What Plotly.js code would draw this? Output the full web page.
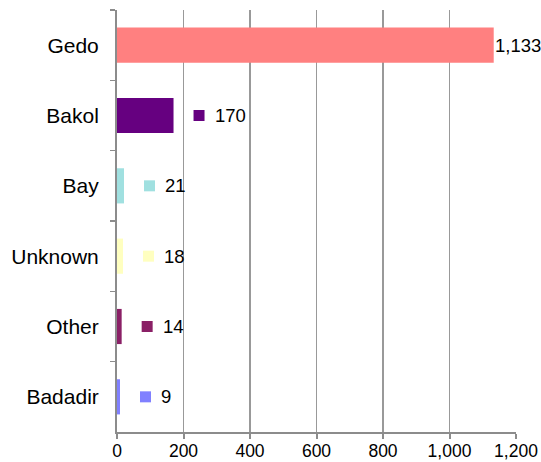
<!DOCTYPE html>
<html>
<head>
<meta charset="utf-8">
<script src="https://cdn.plot.ly/plotly-3.0.1.min.js"></script>
<style>html,body{margin:0;padding:0;background:#fff;}#chart{width:541px;height:462px;}</style>
</head>
<body>
<div id="chart"></div>
<script>
const categories = ["Gedo", "Bakol", "Bay", "Unknown", "Other", "Badadir"];
const values = [1133, 170, 21, 18, 14, 9];
const colors = ["#FF8080", "#660080", "#A0E0E0", "#FFFFC0", "#8A2066", "#8080FF"];
const showKey = [false, true, true, true, true, true];
const xTicks = [0, 200, 400, 600, 800, 1000, 1200];

const trace = {
  type: "bar",
  orientation: "h",
  x: values,
  y: categories,
  marker: {color: colors, line: {width: 0}},
  width: 0.5,
  hoverinfo: "skip"
};

const annotations = [];
const shapes = [];
categories.forEach((c, i) => {
  if (showKey[i]) {
    shapes.push({
      type: "rect", xref: "x", yref: "y",
      xsizemode: "pixel", ysizemode: "pixel",
      xanchor: values[i], yanchor: c,
      x0: 20, x1: 31, y0: -5.5, y1: 5.5,
      fillcolor: colors[i], line: {width: 0}
    });
  }
  annotations.push({
    x: values[i], y: c, xref: "x", yref: "y",
    text: values[i].toLocaleString("en-US"),
    showarrow: false, xanchor: "left", yanchor: "middle",
    xshift: showKey[i] ? 39 : -1,
    font: {family: "'Liberation Sans', Arial, sans-serif", size: 18.5, color: "#000"}
  });
});

const layout = {
  width: 541, height: 462,
  margin: {l: 117, r: 25, t: 10, b: 30, pad: 0},
  paper_bgcolor: "#fff", plot_bgcolor: "#fff",
  showlegend: false,
  separators: ".,",
  font: {family: "'Liberation Sans', Arial, sans-serif", color: "#000"},
  xaxis: {
    range: [0, 1200], tickvals: xTicks, tickformat: ",",
    ticks: "outside", ticklen: 5, tickwidth: 2, tickcolor: "#8c8c8c",
    showgrid: true, gridcolor: "#999", gridwidth: 1.5,
    showline: true, linecolor: "#8c8c8c", linewidth: 2,
    zeroline: false,
    ticklabelstandoff: -3,
    tickfont: {size: 17.5}, fixedrange: true
  },
  yaxis: {
    categoryorder: "array", categoryarray: categories,
    autorange: "reversed",
    tickson: "boundaries",
    ticks: "outside", ticklen: 5, tickwidth: 1.5, tickcolor: "#8c8c8c",
    showline: true, linecolor: "#8c8c8c", linewidth: 2,
    showgrid: false, zeroline: false,
    ticklabelstandoff: 12,
    tickfont: {size: 21}, fixedrange: true
  },
  annotations: annotations,
  shapes: shapes
};

Plotly.newPlot("chart", [trace], layout, {displayModeBar: false, staticPlot: true});
</script>
</body>
</html>
